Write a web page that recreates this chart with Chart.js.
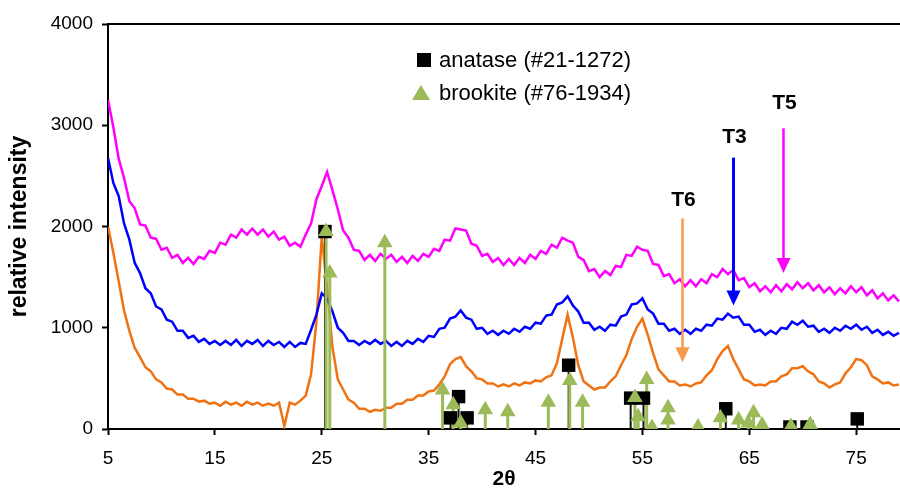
<!DOCTYPE html>
<html>
<head>
<meta charset="utf-8">
<title>XRD patterns T3 / T5 / T6</title>
<script src="https://cdn.jsdelivr.net/npm/chart.js@4.4.0/dist/chart.umd.min.js"></script>
<style>
  html, body { margin: 0; padding: 0; background: #fff; }
  canvas { display: block; }
</style>
</head>
<body>
<canvas id="xrd" width="900" height="492"></canvas>
<script>
// scans are sampled every 0.5° of 2θ, starting at 5°
const angleStart = 5;
const angleStep = 0.5;

// T5 (magenta)
const t5 = [
  3250, 2980, 2670, 2480, 2250, 2180, 2020, 2010, 1890, 1880,
  1770, 1790, 1690, 1720, 1640, 1690, 1630, 1700, 1680, 1760,
  1740, 1840, 1820, 1920, 1890, 1970, 1920, 1980, 1920, 1970,
  1900, 1950, 1870, 1900, 1810, 1840, 1800, 1920, 2030, 2270,
  2400, 2540, 2360, 2170, 1960, 1890, 1770, 1760, 1670, 1720,
  1660, 1730, 1680, 1720, 1650, 1700, 1640, 1710, 1660, 1730,
  1700, 1780, 1760, 1870, 1860, 1980, 1970, 1960, 1830, 1810,
  1710, 1730, 1650, 1690, 1620, 1680, 1620, 1690, 1640, 1720,
  1680, 1760, 1730, 1820, 1790, 1890, 1860, 1840, 1700, 1670,
  1560, 1580, 1500, 1560, 1520, 1610, 1600, 1720, 1710, 1800,
  1770, 1760, 1630, 1620, 1510, 1530, 1440, 1480, 1410, 1470,
  1410, 1480, 1440, 1530, 1500, 1580, 1530, 1570, 1470, 1490,
  1400, 1440, 1360, 1410, 1350, 1420, 1360, 1430, 1380, 1450,
  1390, 1440, 1370, 1420, 1350, 1400, 1330, 1390, 1340, 1410,
  1350, 1400, 1320, 1370, 1290, 1340, 1270, 1320, 1260
];

// T3 (blue)
const t3 = [
  2680, 2430, 2300, 2030, 1870, 1640, 1540, 1390, 1340, 1210,
  1180, 1080, 1060, 970, 970, 900, 920, 860, 890, 840,
  870, 830, 870, 830, 880, 820, 870, 840, 880, 820,
  870, 830, 860, 810, 860, 810, 850, 840, 980, 1130,
  1340, 1290, 1160, 1000, 950, 870, 870, 830, 870, 840,
  880, 840, 870, 820, 860, 820, 870, 840, 890, 860,
  920, 910, 990, 1000, 1090, 1110, 1170, 1100, 1080, 990,
  1000, 940, 970, 930, 970, 940, 990, 960, 1010, 990,
  1050, 1040, 1120, 1130, 1230, 1250, 1310, 1220, 1160, 1050,
  1050, 980, 1010, 970, 1030, 1020, 1110, 1130, 1230, 1240,
  1290, 1180, 1140, 1040, 1040, 970, 990, 940, 980, 940,
  990, 970, 1030, 1020, 1090, 1080, 1140, 1100, 1110, 1030,
  1030, 960, 980, 930, 970, 940, 1000, 990, 1060, 1030,
  1070, 1010, 1020, 960, 990, 950, 1000, 970, 1020, 990,
  1030, 980, 1010, 950, 980, 930, 960, 920, 950
];

// T6 (orange)
const t6 = [
  2000, 1740, 1460, 1170, 970, 800, 710, 610, 570, 490,
  460, 400, 390, 340, 340, 300, 300, 270, 280, 250,
  260, 230, 270, 240, 260, 230, 270, 240, 260, 230,
  250, 230, 260, 30, 260, 240, 280, 330, 540, 1060,
  1900, 1400, 810, 490, 390, 290, 260, 200, 200, 170,
  190, 180, 210, 210, 250, 250, 290, 290, 330, 330,
  370, 380, 440, 520, 640, 690, 710, 620, 570, 500,
  490, 450, 450, 420, 440, 420, 450, 430, 460, 450,
  480, 470, 510, 530, 650, 890, 1130, 900, 630, 470,
  430, 390, 410, 410, 470, 520, 630, 730, 890, 1010,
  1090, 930, 750, 590, 530, 470, 470, 430, 440, 420,
  450, 460, 530, 580, 690, 770, 820, 690, 590, 490,
  470, 430, 440, 430, 470, 470, 520, 540, 600, 600,
  620, 570, 540, 470, 450, 410, 440, 460, 550, 610,
  690, 680, 630, 520, 490, 450, 460, 430, 440
];

// reference patterns
const anataseAngles = [25.3, 37.05, 37.8, 38.6, 48.1, 53.9, 55.1, 62.8, 68.8, 70.4, 75.1];
const anataseHeights = [1950, 110, 320, 110, 630, 305, 305, 200, 20, 20, 100];

const brookiteAngles = [25.4, 25.75, 30.9, 36.3, 37.3, 38.0, 40.3, 42.4, 46.2, 48.2, 49.4,
  54.3, 54.6, 55.4, 55.9, 57.4, 57.4, 60.2, 62.3, 64.0, 64.9, 65.4, 66.2, 68.9, 70.7];
const brookiteHeights = [1950, 1540, 1840, 385, 240, 60, 190, 170, 265, 480, 265,
  310, 120, 490, 15, 210, 90, 20, 110, 90, 60, 160, 40, 25, 45];

const xTicks = [5, 15, 25, 35, 45, 55, 65, 75];
const yTicks = [0, 1000, 2000, 3000, 4000];

// sample arrows
const arrowLabels = ['T6', 'T3', 'T5'];
const arrowAngles = [58.7, 63.5, 68.2];
const arrowFrom = [2080, 2680, 2970];
const arrowTo = [660, 1220, 1540];
const arrowLabelY = [2260, 2880, 3220];
const arrowColors = ['#f89a4c', '#0000ff', '#ff00ff'];

const legendLabels = ['anatase (#21-1272)', 'brookite (#76-1934)'];

const GREEN = '#9bbb59';
const FONT = '"Liberation Sans", Arial, Helvetica, sans-serif';

function toPoints(values) {
  return values.map((v, i) => ({ x: angleStart + i * angleStep, y: v }));
}

function markers(angles, heights) {
  return angles.map((a, i) => ({ x: a, y: heights[i] }));
}

// vertical sticks from the baseline, broken by nulls
function stems(angles, heights) {
  const pts = [];
  angles.forEach((a, i) => {
    pts.push({ x: a, y: 0 }, { x: a, y: heights[i] }, { x: a, y: null });
  });
  return pts;
}

const decorations = {
  id: 'decorations',
  afterDraw(chart) {
    const { ctx, chartArea, scales } = chart;
    const x = scales.x, y = scales.y;
    ctx.save();

    // top frame
    ctx.strokeStyle = '#000';
    ctx.lineWidth = 2;
    ctx.beginPath();
    ctx.moveTo(chartArea.left - 1, chartArea.top);
    ctx.lineTo(chartArea.right, chartArea.top);
    ctx.stroke();

    // arrows + labels
    arrowLabels.forEach((label, i) => {
      const px = Math.round(x.getPixelForValue(arrowAngles[i])) + 0.5;
      const y0 = y.getPixelForValue(arrowFrom[i]);
      const y1 = y.getPixelForValue(arrowTo[i]);
      ctx.strokeStyle = arrowColors[i];
      ctx.fillStyle = arrowColors[i];
      ctx.lineWidth = i === 1 ? 3 : 2.5;
      ctx.beginPath();
      ctx.moveTo(px, y0);
      ctx.lineTo(px, y1 - 12);
      ctx.stroke();
      ctx.beginPath();
      ctx.moveTo(px - 7, y1 - 15);
      ctx.lineTo(px + 7, y1 - 15);
      ctx.lineTo(px, y1);
      ctx.closePath();
      ctx.fill();

      ctx.fillStyle = '#000';
      ctx.font = 'bold 21px ' + FONT;
      ctx.textAlign = 'center';
      ctx.textBaseline = 'middle';
      ctx.fillText(label, px + 1, y.getPixelForValue(arrowLabelY[i]));
    });

    // legend
    const lx = chartArea.left + 316;
    const ly = chartArea.top + 36;
    ctx.fillStyle = '#000';
    ctx.fillRect(lx - 7, ly - 7, 14, 14);
    ctx.fillStyle = GREEN;
    ctx.beginPath();
    ctx.moveTo(lx - 3, ly + 25);
    ctx.lineTo(lx + 6, ly + 40);
    ctx.lineTo(lx - 12, ly + 40);
    ctx.closePath();
    ctx.fill();
    ctx.fillStyle = '#000';
    ctx.font = '22px ' + FONT;
    ctx.textAlign = 'left';
    ctx.textBaseline = 'middle';
    ctx.fillText(legendLabels[0], lx + 15, ly + 1);
    ctx.fillText(legendLabels[1], lx + 15, ly + 34);

    ctx.restore();
  }
};

Chart.defaults.font.family = FONT;
Chart.defaults.color = '#000';

new Chart(document.getElementById('xrd'), {
  type: 'line',
  data: {
    datasets: [
      { label: 'T5', data: toPoints(t5), borderColor: '#ff00ff', borderWidth: 2.5, pointRadius: 0, order: 10 },
      { label: 'T3', data: toPoints(t3), borderColor: '#0000ff', borderWidth: 2.5, pointRadius: 0, order: 10 },
      { label: 'T6', data: toPoints(t6), borderColor: '#f07212', borderWidth: 2.5, pointRadius: 0, order: 10 },
      { label: 'anatase sticks', data: stems(anataseAngles, anataseHeights), borderColor: '#111', borderWidth: 2,
        pointRadius: 0, spanGaps: false, order: 6 },
      { label: 'brookite sticks', data: stems(brookiteAngles, brookiteHeights), borderColor: GREEN, borderWidth: 3,
        pointRadius: 0, spanGaps: false, order: 5 },
      { label: 'anatase', data: markers(anataseAngles, anataseHeights), showLine: false, pointStyle: 'rect',
        pointRadius: 9.5, backgroundColor: '#000', borderWidth: 0, order: 2 },
      { label: 'brookite', data: markers(brookiteAngles, brookiteHeights), showLine: false, pointStyle: 'triangle',
        pointRadius: 9, backgroundColor: GREEN, borderWidth: 0, order: 1 }
    ]
  },
  options: {
    responsive: false,
    animation: false,
    events: [],
    layout: { autoPadding: false, padding: { top: 24, right: 0, bottom: 0, left: 0 } },
    elements: { line: { tension: 0 } },
    plugins: { legend: { display: false }, tooltip: { enabled: false } },
    scales: {
      x: {
        type: 'linear',
        min: 5,
        max: 79.1,
        afterBuildTicks: (s) => { s.ticks = xTicks.map(v => ({ value: v })); },
        afterFit: (s) => { s.height = 63; s.paddingRight = 0; s.paddingLeft = 0; },
        border: { color: '#000', width: 2 },
        grid: { drawOnChartArea: false, tickLength: 6, tickColor: '#000', tickWidth: 2 },
        ticks: { font: { size: 19 }, padding: 12, maxRotation: 0, callback: (v) => String(v) },
        title: { display: true, text: '2θ', font: { size: 21, weight: 'bold' }, padding: { top: 0, bottom: 0 } }
      },
      y: {
        min: 0,
        max: 4000,
        afterBuildTicks: (s) => { s.ticks = yTicks.map(v => ({ value: v })); },
        afterFit: (s) => { s.width = 108; },
        border: { color: '#000', width: 2 },
        grid: { drawOnChartArea: false, tickLength: 6, tickColor: '#000', tickWidth: 2 },
        ticks: { font: { size: 19 }, padding: 9, callback: (v) => String(v) },
        title: { display: true, text: 'relative intensity', font: { size: 23, weight: 'bold' }, padding: { top: 6, bottom: 0 } }
      }
    }
  },
  plugins: [decorations]
});
</script>
</body>
</html>
